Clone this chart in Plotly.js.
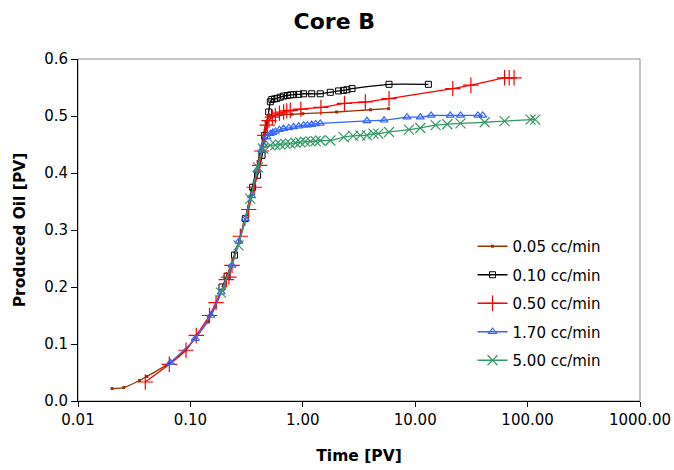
<!DOCTYPE html>
<html>
<head>
<meta charset="utf-8">
<script src="https://cdn.plot.ly/plotly-3.0.1.min.js"></script>
<style>html,body{margin:0;padding:0;background:#fff;}#chart{width:674px;height:470px;}</style>
</head>
<body>
<div id="chart"></div>
<script>
const seriesNames = ["0.05 cc/min", "0.10 cc/min", "0.50 cc/min", "1.70 cc/min", "5.00 cc/min"];

const t005 = [0.0201,0.0255,0.0353,0.041,0.065,0.09,0.142,0.1666,0.21,0.25,0.30,0.35,0.40,0.44,0.47,0.514,0.6,0.8,1.0,2.0,4.0,5.8];
const o005 = [0.0218,0.0235,0.036,0.043,0.066,0.089,0.1386,0.166,0.215,0.26,0.31,0.37,0.42,0.46,0.49,0.50,0.502,0.503,0.504,0.507,0.511,0.513];

const t010 = [0.191,0.212,0.247,0.308,0.358,0.396,0.434,0.458,0.497,0.514,0.53,0.56,0.589,0.63,0.675,0.73,0.78,0.828,0.92,1.017,1.2,1.43,1.757,2.083,2.3,2.47,2.74,5.85,13.1];
const o010 = [0.200,0.219,0.256,0.320,0.375,0.396,0.431,0.466,0.507,0.525,0.529,0.530,0.531,0.533,0.535,0.536,0.537,0.5375,0.538,0.539,0.539,0.539,0.5416,0.544,0.545,0.546,0.548,0.5556,0.5556];

const t050 = [0.0397,0.0649,0.0914,0.1128,0.148,0.169,0.209,0.22,0.2345,0.278,0.33,0.37,0.413,0.43,0.46,0.483,0.50,0.536,0.57,0.62,0.675,0.72,0.774,0.96,1.45,2.35,3.6,5.85,21.6,31.3,62.4,68.6,75.8];
const o050 = [0.0333,0.0644,0.089,0.115,0.150,0.1726,0.213,0.2175,0.238,0.289,0.336,0.375,0.4135,0.4386,0.466,0.484,0.492,0.498,0.501,0.505,0.507,0.509,0.510,0.512,0.515,0.522,0.5246,0.5305,0.548,0.554,0.567,0.567,0.567];

const t170 = [0.0663,0.1106,0.152,0.188,0.2345,0.27,0.308,0.35,0.391,0.43,0.448,0.48,0.514,0.54,0.57,0.62,0.675,0.75,0.828,0.92,1.017,1.1,1.2,1.3,1.43,3.72,5.28,8.45,11.1,13.85,20.5,25.3,36.1,39.9];
const o170 = [0.0673,0.1095,0.150,0.191,0.238,0.280,0.320,0.360,0.405,0.440,0.4486,0.463,0.469,0.471,0.473,0.476,0.478,0.479,0.481,0.482,0.484,0.484,0.485,0.486,0.487,0.4915,0.4925,0.498,0.498,0.501,0.501,0.501,0.501,0.501];

const t500 = [0.187,0.268,0.341,0.40,0.443,0.514,0.57,0.63,0.70,0.774,0.86,0.95,1.05,1.17,1.3,1.43,1.76,2.31,2.8,3.25,3.72,4.26,4.69,5.85,8.79,11.1,15.2,19.3,25.3,41.5,62.4,106.4,116.8];
const o500 = [0.19,0.273,0.355,0.41,0.443,0.4486,0.449,0.450,0.451,0.4516,0.453,0.454,0.455,0.4556,0.456,0.457,0.457,0.463,0.465,0.466,0.466,0.469,0.469,0.472,0.476,0.479,0.484,0.4856,0.487,0.489,0.491,0.4937,0.4937];

const xTickVals = [0.01, 0.1, 1, 10, 100, 1000];
const xTickText = ["0.01", "0.10", "1.00", "10.00", "100.00", "1000.00"];
const yTickVals = [0, 0.1, 0.2, 0.3, 0.4, 0.5, 0.6];

const FONT = "DejaVu Sans, Liberation Sans, Arial, sans-serif";

function mk(name, x, y, color, symbol, size, mlw) {
  return {
    type: "scatter", mode: "lines+markers", name: name, x: x, y: y,
    legendgroup: name,
    line: {color: color, width: 1.3, shape: "spline", smoothing: 0.5},
    marker: {color: color, symbol: symbol, size: size, line: {color: color, width: mlw}}
  };
}

const data = [
  mk(seriesNames[0], t005, o005, "#993300", "square", 3, 0),
  mk(seriesNames[1], t010, o010, "#000000", "square-open", 6, 1),
  mk(seriesNames[2], t050, o050, "#ff0000", "cross-thin-open", 11, 1.2),
  mk(seriesNames[3], t170, o170, "#3366ff", "triangle-up-open", 7, 1.2),
  mk(seriesNames[4], t500, o500, "#339966", "x-thin-open", 10, 1.2)
];

const layout = {
  width: 674, height: 470,
  margin: {l: 78, r: 34, t: 59, b: 69},
  paper_bgcolor: "#ffffff", plot_bgcolor: "#ffffff",
  font: {family: FONT, size: 15, color: "#000"},
  title: {text: "<b>Core B</b>", font: {family: FONT, size: 22, color: "#000"}, x: 0.496, xanchor: "center", y: 0.955, yanchor: "middle"},
  xaxis: {
    type: "log", range: [-2, 3],
    tickvals: xTickVals, ticktext: xTickText,
    ticks: "outside", ticklen: 5, tickcolor: "#000", tickwidth: 1,
    showline: true, linecolor: "#000", linewidth: 1, showgrid: false, zeroline: false,
    tickfont: {family: FONT, size: 15},
    title: {text: "<b>Time [PV]</b>", font: {family: FONT, size: 15.5}, standoff: 22}
  },
  yaxis: {
    range: [0, 0.6],
    tickvals: yTickVals, tickformat: ".1f",
    ticks: "outside", ticklen: 6, tickcolor: "#000", tickwidth: 1,
    showline: true, linecolor: "#000", linewidth: 1, showgrid: false, zeroline: false,
    tickfont: {family: FONT, size: 15},
    title: {text: "<b>Produced Oil [PV]</b>", font: {family: FONT, size: 15.5}, standoff: 14}
  },
  shapes: [{type: "rect", xref: "paper", yref: "paper", x0: 0, x1: 1, y0: 0, y1: 1, line: {color: "#8c8c8c", width: 1}, layer: "below"}],
  legend: {
    x: 0.702, xanchor: "left", y: 0.50, yanchor: "top",
    bgcolor: "rgba(0,0,0,0)", borderwidth: 0,
    font: {family: FONT, size: 15},
    tracegroupgap: 6, itemclick: false
  },
  showlegend: true
};

Plotly.newPlot("chart", data, layout, {displayModeBar: false, staticPlot: true});
</script>
</body>
</html>
